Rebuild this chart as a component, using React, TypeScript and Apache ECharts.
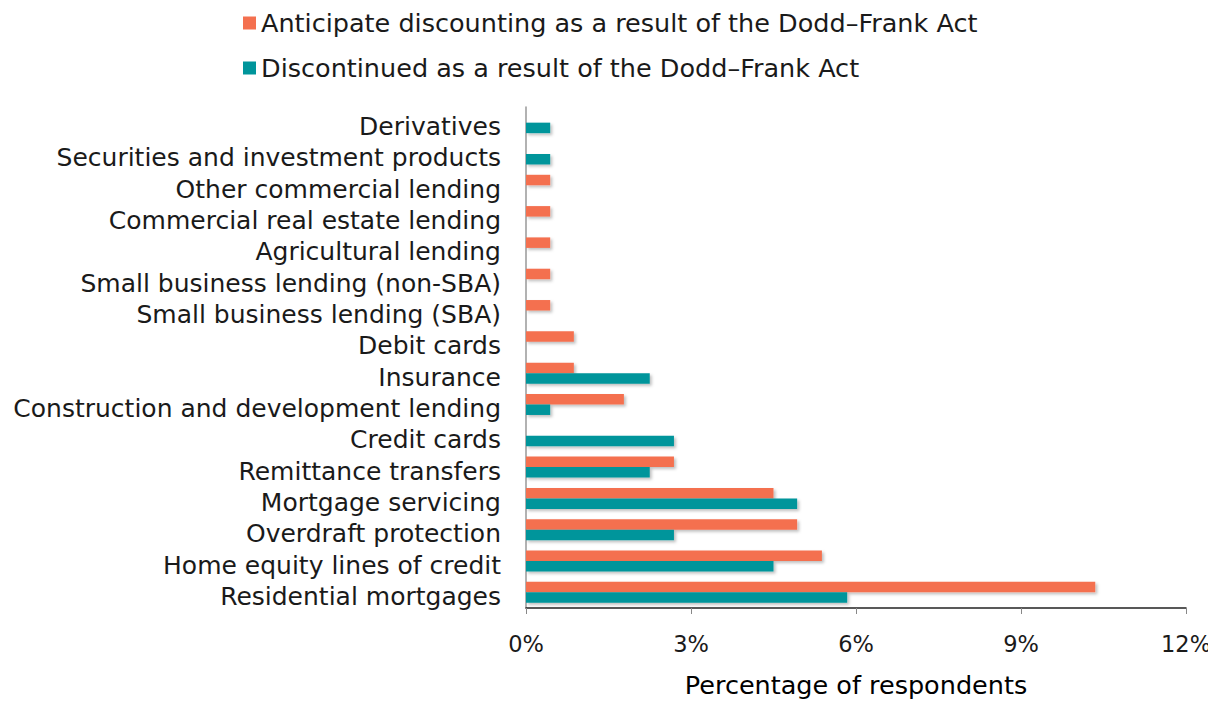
import React, { useEffect, useRef } from "react";
import * as echarts from "echarts";

const categories = [
  "Residential mortgages",
  "Home equity lines of credit",
  "Overdraft protection",
  "Mortgage servicing",
  "Remittance transfers",
  "Credit cards",
  "Construction and development lending",
  "Insurance",
  "Debit cards",
  "Small business lending (SBA)",
  "Small business lending (non-SBA)",
  "Agricultural lending",
  "Commercial real estate lending",
  "Other commercial lending",
  "Securities and investment products",
  "Derivatives",
];

const anticipate = [10.35, 5.38, 4.93, 4.5, 2.69, 0, 1.78, 0.87, 0.87, 0.44, 0.44, 0.44, 0.44, 0.44, 0, 0];
const discontinued = [5.84, 4.5, 2.69, 4.93, 2.25, 2.69, 0.44, 2.25, 0, 0, 0, 0, 0, 0, 0.44, 0.44];

const anticipateName = "Anticipate discounting as a result of the Dodd\u2013Frank Act";
const discontinuedName = "Discontinued as a result of the Dodd\u2013Frank Act";
const xTicks = [0, 3, 6, 9, 12];

const FONT = "DejaVu Sans";
const ORANGE = "#F4704F";
const TEAL = "#00959B";

export default function App() {
  const ref = useRef<HTMLDivElement>(null);
  useEffect(() => {
    if (!ref.current) return;
    const chart = echarts.init(ref.current, null, { renderer: "svg" });
    const shadow = {
      shadowBlur: 3,
      shadowOffsetX: 2,
      shadowOffsetY: 2,
      shadowColor: "rgba(0,0,0,0.25)",
    };
    chart.setOption({
      animation: false,
      textStyle: { fontFamily: FONT },
      legend: {
        orient: "vertical",
        left: 235,
        top: 2,
        padding: 0,
        itemWidth: 13,
        itemHeight: 13,
        itemGap: 19,
        icon: "rect",
        data: [anticipateName, discontinuedName],
        textStyle: { fontSize: 25.5, lineHeight: 24, color: "#1a1a1a", fontFamily: FONT },
      },
      grid: { left: 518, right: 30, top: 99, bottom: 94 },
      xAxis: {
        type: "value",
        min: xTicks[0],
        max: xTicks[xTicks.length - 1],
        interval: 3,
        name: "Percentage of respondents",
        nameLocation: "middle",
        nameGap: 64,
        nameTextStyle: { fontSize: 25.5, color: "#000", fontFamily: FONT },
        axisLine: { show: true, lineStyle: { color: "#222", width: 1.5 } },
        axisTick: { show: true, length: 6, lineStyle: { color: "#888" } },
        splitLine: { show: false },
        axisLabel: {
          fontSize: 22.5,
          color: "#1a1a1a",
          margin: 24,
          formatter: (v: number) => v + "%",
        },
      },
      yAxis: {
        type: "category",
        data: categories,
        axisLine: { show: true, lineStyle: { color: "#999", width: 1.5 } },
        axisTick: { show: false },
        axisLabel: {
          interval: 0,
          margin: 25,
          formatter: (v: string) => "{a|" + v + "}",
          rich: {
            a: { fontSize: 25, color: "#1a1a1a", fontFamily: FONT, padding: [8, 0, 0, 0] },
          },
        },
      },
      series: [
        {
          name: anticipateName,
          type: "bar",
          data: anticipate,
          barWidth: 10.5,
          barGap: "0%",
          itemStyle: { color: ORANGE, ...shadow },
        },
        {
          name: discontinuedName,
          type: "bar",
          data: discontinued,
          barWidth: 10.5,
          barGap: "0%",
          itemStyle: { color: TEAL, ...shadow },
        },
      ],
    });
    return () => chart.dispose();
  }, []);
  return <div ref={ref} style={{ width: 1208, height: 695 }} />;
}
